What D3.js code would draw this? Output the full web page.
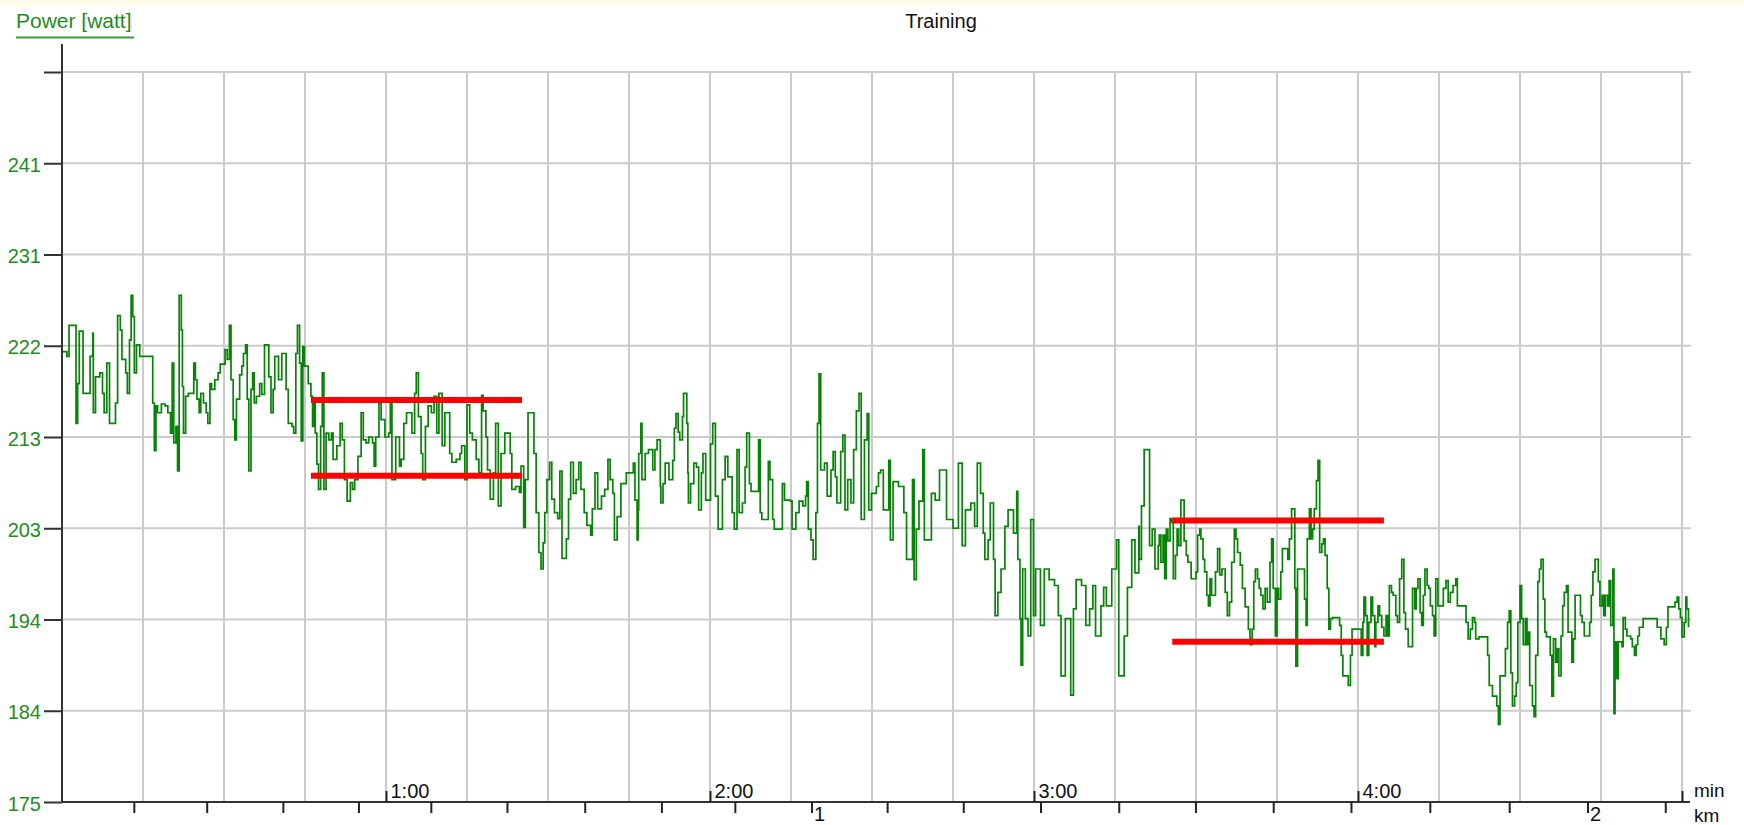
<!DOCTYPE html>
<html>
<head>
<meta charset="utf-8">
<script src="https://cdn.jsdelivr.net/npm/d3@7"></script>
<style>
  body { margin: 0; background: #fff; }
  svg text { font-family: 'Liberation Sans', Arial, sans-serif; }
</style>
</head>
<body>
<div id="chart"></div>
<script>
// power trace (time in s, power in watt)
const seconds = [
  0.0, 0.9, 1.3, 2.6, 2.9, 3.2, 3.9, 5.2, 5.7, 5.8, 6.2, 7.0, 7.5, 7.8, 8.3, 8.8, 9.9, 10.3, 10.8, 11.1,
  11.8, 12.1, 12.5, 12.8, 13.1, 13.4, 13.8, 14.4, 16.8, 17.1, 17.4, 17.7, 18.4, 19.1, 19.6, 20.1, 20.4, 20.7, 21.1, 21.4,
  21.7, 22.1, 22.3, 22.5, 22.9, 23.4, 24.4, 24.7, 25.0, 25.4, 25.7, 26.2, 26.7, 27.0, 27.4, 27.7, 28.3, 28.9, 29.3, 30.2,
  30.6, 31.0, 31.3, 31.7, 32.0, 32.3, 32.9, 33.3, 33.6, 34.0, 34.3, 34.6, 35.0, 35.3, 35.6, 36.0, 36.6, 37.0, 37.5, 38.3,
  38.7, 39.1, 39.4, 40.1, 40.7, 41.5, 41.9, 42.6, 42.9, 43.3, 43.6, 44.0, 44.3, 44.6, 44.9, 45.6, 46.1, 46.4, 46.6, 46.9,
  47.2, 47.5, 47.9, 48.2, 48.5, 48.9, 49.4, 49.9, 50.2, 50.9, 51.5, 51.9, 52.3, 52.8, 53.4, 53.8, 54.2, 54.8, 55.4, 55.8,
  56.3, 56.8, 57.5, 57.8, 58.1, 58.7, 59.1, 59.8, 60.5, 60.8, 61.1, 61.8, 62.5, 62.8, 63.3, 63.8, 64.8, 65.3, 65.6, 66.0,
  66.5, 66.8, 67.3, 67.8, 68.4, 68.9, 69.4, 69.8, 70.4, 70.9, 71.8, 72.2, 73.0, 73.7, 74.0, 74.6, 75.0, 75.5, 76.0, 76.7,
  77.2, 77.7, 78.0, 78.5, 78.8, 79.3, 79.9, 80.3, 80.8, 81.3, 82.0, 83.0, 83.3, 84.0, 84.7, 85.0, 85.5, 85.8, 86.3, 87.4,
  87.8, 88.3, 88.7, 89.1, 89.4, 89.8, 90.3, 90.7, 91.2, 91.8, 92.2, 92.6, 93.4, 93.8, 94.2, 94.7, 95.2, 95.7, 96.1, 96.7,
  97.2, 97.9, 98.2, 98.7, 99.2, 99.9, 100.5, 101.1, 101.5, 102.0,
  102.3, 102.8, 103.5, 104.5, 105.8, 106.1, 106.5, 106.7, 106.8, 107.2, 107.4, 108.0, 108.6, 109.4, 109.8, 110.2, 110.8, 110.9, 111.3, 111.7,
  112.4, 113.1, 113.4, 113.7, 114.1, 114.4, 114.9, 115.1, 115.7, 115.9, 116.0, 116.4, 117.0, 117.5, 117.9, 118.4, 118.7, 119.2, 120.1, 120.5,
  121.0, 121.5, 122.3, 122.8, 123.3, 124.1, 124.5, 125.0, 125.4, 126.0, 126.5, 126.8, 127.3, 127.6, 129.0, 129.3, 129.6, 130.8, 131.1, 131.6,
  131.9, 133.4, 133.8, 134.9, 135.2, 135.9, 136.5, 137.2, 137.7, 137.9, 138.2, 138.7, 139.1, 139.6, 139.9, 140.2, 140.5, 141.2, 141.7, 142.4,
  142.8, 143.2, 143.5, 144.2, 144.6, 145.0, 145.5, 146.1, 146.6, 147.1, 147.6, 148.0, 148.6, 149.1, 149.4, 149.9, 150.8, 151.2, 151.6, 152.1,
  153.1, 153.4, 153.9, 154.9, 155.9, 156.4, 157.5, 157.8, 158.2, 158.7, 159.4, 159.7, 161.0, 161.7, 162.5, 163.8, 165.0, 166.0, 166.7, 167.3,
  168.3, 169.0, 169.5, 170.1, 170.6, 170.9, 171.5, 171.9, 172.5, 172.8, 173.3, 173.9, 174.6, 175.2, 176.2, 176.8, 177.0, 177.4, 177.6, 177.9,
  178.4, 178.9, 179.4, 179.9, 180.3, 181.2, 181.9, 182.8, 183.8, 184.5, 185.0, 185.8, 186.8, 187.3, 187.8, 188.8, 189.6, 190.3, 190.9, 191.4,
  192.4, 192.9, 193.4, 194.4, 195.3, 195.7, 196.7, 197.3, 198.1, 198.7, 199.4, 199.5, 199.9, 200.4, 201.4, 201.9, 202.4, 203.0,
  203.2, 203.5, 203.9, 204.2, 204.5, 204.8, 205.2, 205.5, 205.8, 206.2, 206.5, 206.8, 207.2, 207.8, 208.2, 208.5, 209.1, 210.0, 210.3, 210.7,
  210.9, 211.3, 211.6, 212.0, 212.3, 212.6, 212.9, 213.6, 214.0, 214.4, 214.8, 215.4, 215.8, 216.2, 216.6, 217.1, 217.4, 217.7, 218.2, 218.6,
  219.1, 219.7, 220.0, 220.4, 220.7, 221.0, 221.4, 221.7, 222.0, 222.4, 222.8, 223.2, 223.7, 224.0, 224.3, 224.7, 225.0, 225.3, 225.7, 226.0,
  227.0, 227.3, 227.7, 228.3, 228.5, 228.8, 230.1, 230.4, 230.6, 231.0, 231.3, 231.6, 231.9, 232.3, 232.6, 232.9, 233.3, 233.6, 233.9, 234.3,
  234.6, 234.9, 235.3, 236.6, 236.9, 237.2, 238.2, 238.6, 238.9, 240.6, 240.9, 241.1, 241.4, 241.7, 242.0, 242.4, 242.7, 243.1, 243.3, 243.7,
  244.0, 244.4, 244.8, 245.2, 245.5, 245.8, 246.2, 246.5, 247.0, 247.3, 247.7, 248.1, 248.5, 248.8, 249.3, 250.1, 250.5, 250.8, 251.1, 251.5,
  251.8, 252.1, 252.4, 252.8, 253.1, 253.4, 253.8, 254.1, 254.4, 254.8, 255.8, 256.3, 256.7, 257.1, 257.6, 258.1, 258.4, 260.0, 260.4, 260.8,
  261.2, 261.6, 261.8, 262.4, 264.0, 264.3, 264.9, 265.7, 266.0, 266.3, 267.3, 267.7, 268.0, 268.3, 268.6, 269.0, 269.3, 269.6, 270.0, 270.3,
  270.6, 271.0, 271.3, 271.6, 271.8, 272.3, 272.6, 272.9, 273.3, 273.6, 273.9, 274.3, 274.6, 274.9, 275.6, 275.9, 276.2, 276.6, 276.9, 277.2,
  277.6, 277.9, 278.2, 278.6, 278.9, 279.6, 279.9, 280.2, 281.2, 281.5, 281.9, 282.9, 283.2, 283.5, 283.9, 284.5, 284.8, 285.2, 285.5, 285.8,
  286.2, 286.5, 286.8, 287.2, 287.4, 287.6, 287.9, 288.2, 288.9, 289.1, 289.5, 289.8, 290.5, 290.8, 291.2, 291.5, 291.8, 292.1, 292.8, 295.4,
  296.1, 296.7, 297.1, 297.4, 298.7, 299.1, 299.4, 299.7, 300.0, 300.4, 300.7, 300.9, 301.2
]

const watts = [
  221.4, 220.9, 224.1, 214.0, 218.1, 223.5, 217.1, 220.9, 223.3, 215.1, 218.8, 219.2, 217.1, 215.1, 220.2, 214.0, 216.1, 225.1, 223.6, 220.6,
  219.2, 217.1, 222.6, 227.2, 225.0, 219.2, 222.1, 220.9, 216.1, 211.2, 215.8, 215.1, 216.0, 215.8, 215.1, 213.0, 220.2, 212.0, 213.7, 209.1,
  227.2, 223.6, 217.8, 213.0, 216.8, 217.1, 220.2, 218.5, 216.5, 215.1, 217.1, 216.1, 215.1, 214.0, 218.1, 217.5, 218.5, 219.2, 220.1, 221.6,
  220.6, 224.1, 218.5, 214.4, 212.3, 216.5, 219.0, 219.9, 221.2, 222.1, 216.5, 209.1, 217.5, 219.2, 216.1, 216.8, 218.1, 217.0, 222.1, 218.8,
  215.1, 217.5, 220.9, 218.5, 221.2, 217.5, 214.0, 213.7, 213.0, 221.2, 224.1, 220.2, 212.2, 221.9, 219.9, 218.1, 216.8, 213.7, 216.1, 213.0,
  209.8, 207.2, 213.7, 219.2, 207.2, 213.0, 212.3, 213.0, 210.3, 211.7, 214.0, 212.3, 208.2, 206.0, 207.9, 207.2, 208.2, 210.6, 215.1, 212.3,
  212.0, 212.6, 212.0, 209.6, 212.6, 216.1, 214.4, 212.6, 213.0, 216.1, 208.2, 212.6, 209.6, 210.3, 214.0, 215.1, 213.0, 217.1, 219.2, 214.7,
  210.9, 208.2, 213.7, 215.8, 215.1, 216.8, 213.0, 217.1, 211.7, 215.1, 210.9, 210.0, 210.3, 210.9, 211.7, 208.2, 215.9, 213.0, 212.3, 210.3,
  208.9, 216.9, 215.3, 212.6, 209.2, 206.2, 208.9, 214.0, 205.5, 210.9, 213.0, 210.9, 207.2, 207.5, 206.9, 209.6, 203.3, 208.2, 215.1, 210.9,
  204.8, 200.7, 199.0, 201.7, 204.8, 208.2, 210.0, 206.2, 204.8, 204.2, 209.1, 200.1, 202.1, 206.2, 210.0, 206.8, 208.2, 210.0, 207.2, 204.8,
  203.5, 202.5, 205.2, 208.9, 205.2, 206.5, 207.2, 210.3, 208.2, 206.8,
  202.0, 204.4, 207.8, 208.9, 209.9, 206.1, 202.0, 205.1, 210.9, 214.0, 208.2, 210.9, 211.3, 209.2, 211.3, 212.3, 207.5, 205.8, 207.8, 209.9,
  208.2, 210.2, 213.5, 215.0, 213.1, 212.3, 214.7, 217.1, 214.0, 208.9, 205.8, 207.8, 209.9, 209.5, 205.1, 208.9, 210.9, 206.1, 211.9, 214.0,
  206.5, 203.1, 208.2, 210.6, 208.5, 204.8, 203.1, 211.3, 204.8, 205.8, 209.5, 213.0, 207.8, 207.0, 212.3, 204.8, 204.1, 210.1, 208.2, 204.1,
  203.1, 207.8, 206.1, 206.0, 203.1, 204.8, 206.0, 205.5, 206.5, 208.0, 203.1, 202.0, 200.0, 204.8, 214.0, 219.1, 209.2, 209.9, 206.5, 209.2,
  211.1, 208.5, 205.8, 211.1, 212.8, 205.1, 208.2, 205.8, 211.3, 215.3, 217.1, 204.1, 212.3, 215.0, 205.1, 206.8, 207.5, 208.9, 209.2, 205.1,
  210.2, 202.0, 208.0, 207.5, 204.8, 200.0, 208.2, 197.9, 203.1, 206.0, 211.3, 202.0, 206.8, 206.1, 209.2, 204.1, 203.2, 209.9, 201.4, 205.1,
  205.8, 203.4, 209.9, 206.8, 202.7, 200.0, 202.0, 205.8, 200.0, 194.2, 196.6, 199.0, 203.4, 205.1, 202.7, 207.0, 200.0, 193.9, 189.1, 199.0,
  193.9, 192.1, 204.1, 194.2, 199.0, 193.2, 199.0, 197.9, 197.3, 194.2, 188.0, 193.9, 186.0, 194.9, 197.9, 197.3, 193.2, 194.9, 197.3, 192.1,
  195.2, 197.1, 195.2, 199.0, 202.0, 188.0, 192.1, 197.1, 202.0, 198.6, 203.4, 200.0, 205.5, 211.3, 201.4, 203.1, 199.0, 201.4,
  202.5, 199.7, 202.5, 198.0, 203.1, 201.9, 204.2, 203.8, 198.0, 200.4, 203.1, 201.4, 206.1, 201.9, 200.4, 199.7, 198.0, 198.7, 202.5, 203.1,
  202.1, 200.0, 198.7, 196.3, 195.2, 198.0, 196.3, 198.7, 201.1, 198.4, 199.0, 196.6, 194.2, 195.6, 199.7, 203.1, 202.1, 200.7, 199.4, 197.0,
  195.1, 192.8, 191.2, 192.8, 197.7, 199.0, 198.0, 197.0, 196.3, 194.9, 197.0, 195.6, 199.7, 202.1, 197.0, 192.1, 197.0, 195.9, 198.7, 201.1,
  200.0, 202.1, 205.2, 197.0, 189.0, 199.0, 195.9, 193.2, 202.1, 205.2, 202.1, 203.1, 205.2, 208.1, 210.2, 200.7, 201.6, 202.1, 200.4, 197.0,
  192.8, 193.9, 194.0, 193.2, 190.1, 188.0, 187.0, 190.1, 192.8, 190.1, 193.5, 196.1, 194.2, 190.1, 193.5, 196.1, 194.2, 191.0, 193.5, 195.2,
  194.2, 193.0, 192.1, 194.2, 192.1, 197.3, 196.6, 196.3, 194.2, 193.5, 198.0, 200.0, 194.5, 192.8, 191.0, 197.0, 194.9, 197.0, 198.0, 194.5,
  193.2, 196.3, 199.0, 197.3, 197.0, 195.2, 194.2, 192.1, 198.0, 195.2, 197.0, 197.8, 195.6, 196.6, 197.3, 198.0, 195.2, 193.5, 191.8, 192.8,
  194.0, 193.5, 191.8, 192.0, 190.1, 187.0, 185.9, 184.9, 183.0, 188.0, 190.8, 193.5, 194.7, 188.3, 184.9, 185.9, 187.3, 193.5, 197.3, 193.9,
  191.2, 193.9, 191.2, 192.5, 187.0, 184.9, 183.8, 190.1, 197.7, 199.0, 200.0, 195.9, 192.5, 192.0, 190.1, 185.9, 191.8, 189.4, 190.8, 188.0,
  192.1, 195.2, 196.6, 197.3, 192.5, 189.4, 191.8, 196.3, 194.2, 193.5, 192.1, 193.5, 196.3, 198.7, 200.0, 197.7, 195.2, 196.3, 194.2, 196.3,
  195.2, 197.8, 193.2, 199.0, 184.1, 191.5, 187.7, 191.5, 191.0, 194.0, 192.8, 192.1, 191.8, 191.0, 190.1, 191.2, 192.1, 193.0, 193.9, 193.0,
  191.8, 191.2, 193.0, 195.1, 195.6, 196.1, 194.9, 194.0, 192.0, 193.5, 196.1, 194.9, 193.0
]

// y axis ticks
const yTicks = [175, 184.4, 193.8, 203.2, 212.6, 222, 231.4, 240.8, 250.2]
const yTickLabels = ['175', '184', '194', '203', '213', '222', '231', '241', '']

// time axis (s)
const minuteTicks = [60, 120, 180, 240, 300]
const minuteLabels = ['1:00', '2:00', '3:00', '4:00', '']

// distance axis: time at which each 100 m was reached
const kmDistances = [0.1, 0.2, 0.3, 0.4, 0.5, 0.6, 0.7, 0.8, 0.9, 1.0, 1.1, 1.2, 1.3, 1.4, 1.5, 1.6, 1.7, 1.8, 1.9, 2.0, 2.1]
const kmSeconds = [13.3, 26.8, 40.9, 54.9, 68.3, 82.4, 96.8, 111.0, 124.6, 138.8, 152.8, 166.9, 181.2, 195.7, 209.9, 224.3, 238.7, 253.3, 268.0, 282.5, 296.9]

// red marker bands
const bandStart = [46.1, 205.6]
const bandEnd = [85.2, 244.8]
const bandTop = [216.4, 204.0]
const bandBottom = [208.6, 191.5]

const width = 1744
const height = 825

const svg = d3
  .select('#chart')
  .append('svg')
  .attr('width', width)
  .attr('height', height)
  .style('display', 'block')

const x = d3.scaleLinear().domain([0, 300]).range([62, 1682])
const y = d3.scaleLinear().domain([175, 250.2]).range([802, 72])

const gridColor = '#cbcbcb'
const axisColor = '#333'

// top strip
svg.append('rect')
  .attr('width', width)
  .attr('height', 7)
  .attr('fill', '#fefbea')

// grid
svg.append('g')
  .selectAll('line')
  .data(d3.range(15, 301, 15))
  .enter()
  .append('line')
  .attr('x1', d => x(d))
  .attr('x2', d => x(d))
  .attr('y1', y(250.2))
  .attr('y2', y(175))
  .attr('stroke', gridColor)
  .attr('stroke-width', 2)

svg.append('g')
  .selectAll('line')
  .data(yTicks.slice(1))
  .enter()
  .append('line')
  .attr('x1', x(0))
  .attr('x2', 1691)
  .attr('y1', d => y(d))
  .attr('y2', d => y(d))
  .attr('stroke', gridColor)
  .attr('stroke-width', 2)

// power trace
const line = d3
  .line()
  .x((d, i) => x(seconds[i]))
  .y(d => y(d))
  .curve(d3.curveStepAfter)

svg.append('path')
  .datum(watts)
  .attr('d', line)
  .attr('fill', 'none')
  .attr('stroke', '#078307')
  .attr('stroke-width', 1.7)

// red bands
bandStart.forEach((s, i) => {
  ;[bandTop[i], bandBottom[i]].forEach(v => {
    svg.append('line')
      .attr('x1', x(s))
      .attr('x2', x(bandEnd[i]))
      .attr('y1', y(v))
      .attr('y2', y(v))
      .attr('stroke', '#ff0000')
      .attr('stroke-width', 6)
  })
})

// y axis
const yAxis = svg.append('g')
  .attr('transform', 'translate(' + x(0) + ',0)')
  .call(
    d3.axisLeft(y)
      .tickValues(yTicks)
      .tickFormat((d, i) => yTickLabels[i])
      .tickSize(18)
      .tickSizeOuter(0)
      .tickPadding(3)
  )
yAxis.select('.domain').remove()
yAxis.selectAll('line').attr('stroke', axisColor).attr('stroke-width', 2)
yAxis.selectAll('text')
  .attr('fill', '#1f8c1f')
  .attr('font-size', 20)
  .attr('dy', '0.4em')

svg.append('line')
  .attr('x1', x(0)).attr('x2', x(0))
  .attr('y1', 44).attr('y2', y(175) + 1)
  .attr('stroke', axisColor)
  .attr('stroke-width', 2)

svg.append('line')
  .attr('x1', x(0) - 1).attr('x2', 1690)
  .attr('y1', y(175)).attr('y2', y(175))
  .attr('stroke', axisColor)
  .attr('stroke-width', 2)

// minutes, above the axis
const tAxis = svg.append('g')
  .attr('transform', 'translate(0,' + y(175) + ')')
  .call(
    d3.axisTop(x)
      .tickValues(minuteTicks)
      .tickFormat((d, i) => minuteLabels[i])
      .tickSize(11)
      .tickSizeOuter(0)
  )
tAxis.select('.domain').remove()
tAxis.selectAll('line').attr('stroke', '#222').attr('stroke-width', 2)
tAxis.selectAll('text')
  .attr('text-anchor', 'start')
  .attr('x', 4)
  .attr('y', -4)
  .attr('dy', 0)
  .attr('fill', '#111')
  .attr('font-size', 20)

// km, below the axis
const dist = d3.scaleLinear().domain(kmDistances).range(kmSeconds.map(s => x(s)))
const kAxis = svg.append('g')
  .attr('transform', 'translate(0,' + y(175) + ')')
  .call(
    d3.axisBottom(dist)
      .tickValues(kmDistances)
      .tickFormat(d => (Math.abs(d - Math.round(d)) < 1e-6 ? d3.format('d')(d) : ''))
      .tickSize(11)
      .tickSizeOuter(0)
  )
kAxis.select('.domain').remove()
kAxis.selectAll('line').attr('stroke', '#222').attr('stroke-width', 2)
kAxis.selectAll('text')
  .attr('text-anchor', 'start')
  .attr('x', 2)
  .attr('y', 5)
  .attr('fill', '#111')
  .attr('font-size', 20)

// unit labels
svg.append('text')
  .attr('x', 1694).attr('y', 797)
  .attr('font-size', 19)
  .attr('fill', '#111')
  .text('min')
svg.append('text')
  .attr('x', 1694).attr('y', 822)
  .attr('font-size', 19)
  .attr('fill', '#111')
  .text('km')

// titles
svg.append('text')
  .attr('x', 16).attr('y', 28)
  .attr('font-size', 21)
  .attr('fill', '#1f8c1f')
  .text('Power [watt]')
svg.append('line')
  .attr('x1', 16).attr('x2', 134)
  .attr('y1', 37.5).attr('y2', 37.5)
  .attr('stroke', '#35a035')
  .attr('stroke-width', 2)

svg.append('text')
  .attr('x', 941).attr('y', 28)
  .attr('text-anchor', 'middle')
  .attr('font-size', 20)
  .attr('fill', '#111')
  .text('Training')
</script>
</body>
</html>
